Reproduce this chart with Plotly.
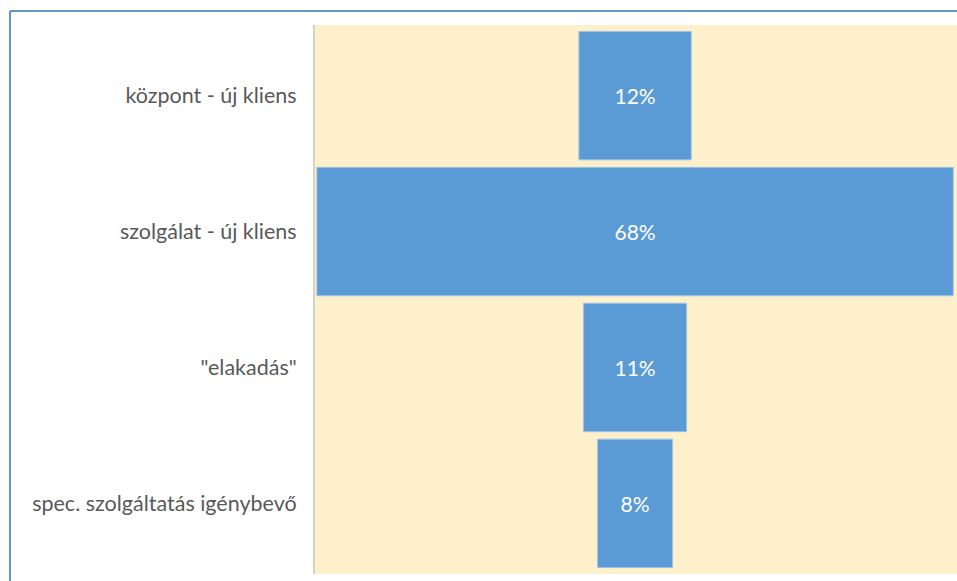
import plotly.graph_objects as go

# Funnel stages and their share (%)
stages = ["központ - új kliens", "szolgálat - új kliens", "\"elakadás\"", "spec. szolgáltatás igénybevő"]
shares = [12, 68, 11, 8]

W, H = 957, 581
ML, MR, MT, MB = 315, 0, 25, 7
pw, ph = W - ML - MR, H - MT - MB

fig = go.Figure(go.Funnel(
    y=stages,
    x=shares,
    orientation="h",
    marker=dict(color="#5B9BD5", line=dict(color="#9CC2E5", width=1)),
    texttemplate="%{x}%",
    textposition="inside",
    insidetextanchor="middle",
    textfont=dict(color="white", size=21, family="Lato, Open Sans, sans-serif"),
    connector=dict(visible=False),
    hoverinfo="y+x",
))

# Frame lines along the top and left of the figure
def px_x(x):
    return (x - ML) / pw

def px_y(y):
    return 1 - (y - MT) / ph

fig.add_shape(type="line", xref="paper", yref="paper",
              x0=px_x(10), x1=px_x(960), y0=px_y(11), y1=px_y(11),
              line=dict(color="#2E75B6", width=1.5))
fig.add_shape(type="line", xref="paper", yref="paper",
              x0=px_x(10), x1=px_x(10), y0=px_y(11), y1=px_y(585),
              line=dict(color="#2E75B6", width=1.5))

fig.update_layout(
    width=W, height=H,
    margin=dict(l=ML, r=MR, t=MT, b=MB),
    paper_bgcolor="white",
    plot_bgcolor="#FFF0CC",
    funnelgap=0.055,
    showlegend=False,
    xaxis=dict(range=[-34.2, 34.4], visible=False, showgrid=False, zeroline=False),
    yaxis=dict(
        range=[3.52, -0.52],
        showgrid=False, zeroline=False,
        showline=True, linecolor="#D9D2C2", linewidth=2,
        ticks="", ticklabelstandoff=12,
        tickfont=dict(size=21.5, color="#595959", family="Lato, Open Sans, sans-serif"),
    ),
)

fig.write_html("out.html")
